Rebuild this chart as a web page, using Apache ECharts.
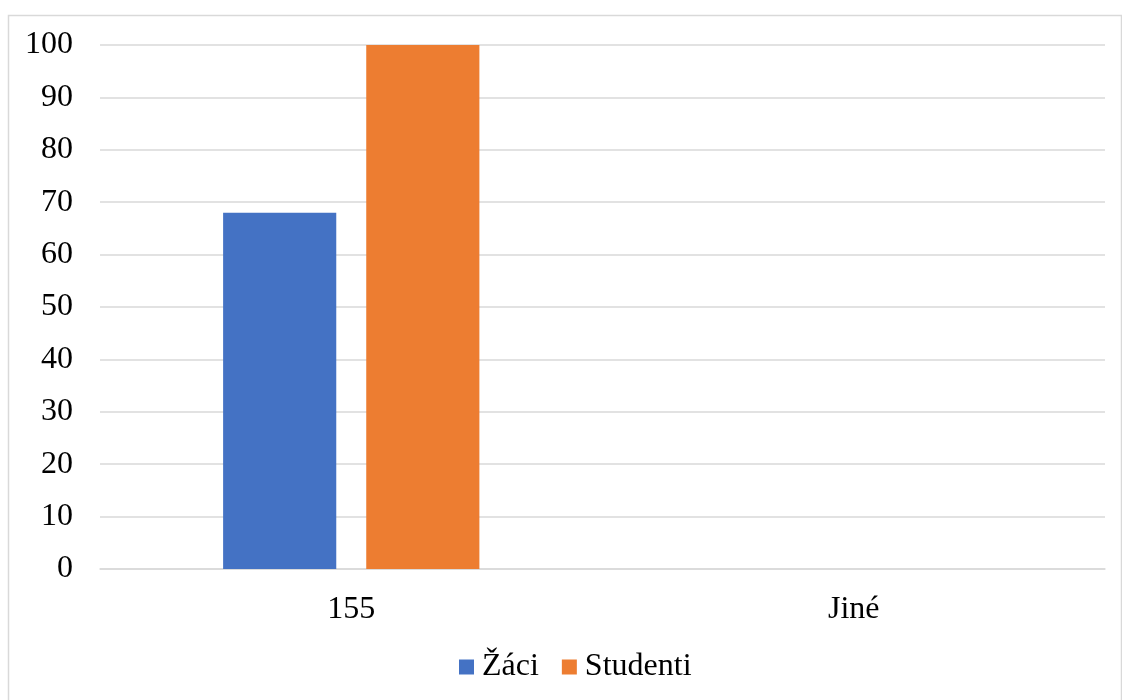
<!DOCTYPE html>
<html>
<head>
<meta charset="utf-8">
<script src="https://cdn.jsdelivr.net/npm/echarts@6/dist/echarts.min.js"></script>
<style>
html,body{margin:0;padding:0;background:#fff;}
#c{width:1122px;height:700px;}
</style>
</head>
<body>
<div id="c"></div>
<script>
const categories = ['155', 'Jiné'];
const seriesNames = ['Žáci', 'Studenti'];
const zaci = [68, 0];
const studenti = [100, 0];
const colors = ['#4472C4', '#ED7D31'];

const FONT = '"Liberation Serif", "Times New Roman", serif';
const chart = echarts.init(document.getElementById('c'), null, {renderer: 'canvas'});
chart.setOption({
  animation: false,
  backgroundColor: '#fff',
  graphic: [{
    type: 'rect',
    left: 6, top: 13,
    shape: {width: 1113, height: 700},
    style: {fill: 'none', stroke: '#d9d9d9', lineWidth: 1.5},
    silent: true
  }],
  grid: {left: 100, right: 17, top: 45, bottom: 131, containLabel: false},
  legend: {
    data: seriesNames,
    bottom: 12,
    left: 454,
    itemWidth: 15, itemHeight: 15,
    itemGap: 23,
    icon: 'rect',
    textStyle: {fontFamily: FONT, fontSize: 32, color: '#000', padding: [0, 0, 0, 3]}
  },
  xAxis: {
    type: 'category',
    data: categories,
    axisLine: {show: true, lineStyle: {color: '#d9d9d9', width: 1.5}},
    axisTick: {show: false},
    axisLabel: {fontFamily: FONT, fontSize: 32, color: '#000', margin: 25}
  },
  yAxis: {
    type: 'value',
    min: 0, max: 100, interval: 10,
    axisLine: {show: false},
    axisTick: {show: false},
    splitLine: {lineStyle: {color: '#d9d9d9', width: 1.5}},
    axisLabel: {fontFamily: FONT, fontSize: 32, color: '#000', margin: 27, padding: [6, 0, 0, 0]}
  },
  series: [
    {name: seriesNames[0], type: 'bar', data: zaci, itemStyle: {color: colors[0]}, barGap: '26.5%', barCategoryGap: '49%'},
    {name: seriesNames[1], type: 'bar', data: studenti, itemStyle: {color: colors[1]}, barGap: '26.5%', barCategoryGap: '49%'}
  ]
});
</script>
</body>
</html>
